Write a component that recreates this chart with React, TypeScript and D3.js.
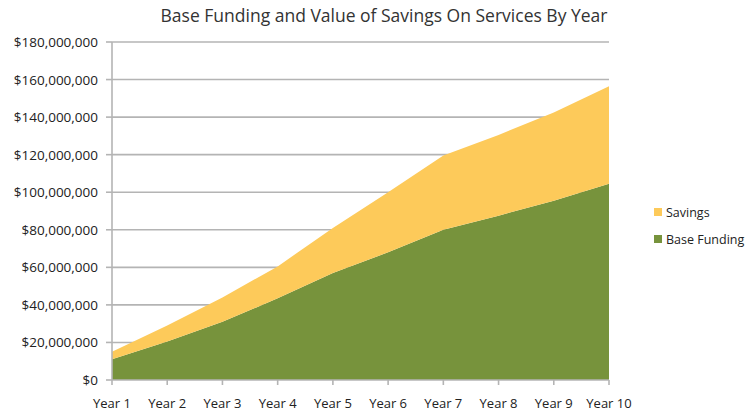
import React from "react";
import * as d3 from "d3";

const years = ["Year 1", "Year 2", "Year 3", "Year 4", "Year 5", "Year 6", "Year 7", "Year 8", "Year 9", "Year 10"];
const baseFunding = [11, 20.5, 31, 43.5, 57, 68, 80, 87.5, 95.5, 104.5].map((v) => v * 1e6);
const savings = [4, 8.5, 13, 17, 24, 32, 39.5, 43, 47, 52].map((v) => v * 1e6);
const yTicks = [0, 20, 40, 60, 80, 100, 120, 140, 160, 180].map((v) => v * 1e6);

const W = 748;
const H = 415;
const left = 112;
const right = 609;
const top = 42;
const bottom = 380;

const GREEN = "#77933c";
const YELLOW = "#fdca5a";
const FONT = "'Open Sans', 'Liberation Sans', sans-serif";

export default function App() {
  const x = d3.scalePoint<string>().domain(years).range([left, right]);
  const y = d3.scaleLinear().domain([0, 180e6]).range([bottom, top]);
  const fmt = (v: number) => "$" + d3.format(",")(v);

  const rows = years.map((yr, i) => ({ year: yr, base: baseFunding[i], savings: savings[i] }));
  const stack = d3.stack<any>().keys(["base", "savings"]);
  const series = stack(rows);
  const area = d3
    .area<any>()
    .x((d) => x(d.data.year) as number)
    .y0((d) => y(d[0]))
    .y1((d) => y(d[1]));
  const colors = [GREEN, YELLOW];

  return (
    <svg width={W} height={H} style={{ position: "absolute", left: 0, top: 0, background: "#fff" }}>
      <text x={384} y={22} textAnchor="middle" fontFamily={FONT} fontSize={17.5} fill="#333">
        Base Funding and Value of Savings On Services By Year
      </text>
      {yTicks.map((t) => (
        <g key={t}>
          {t > 0 && <line x1={left} x2={right} y1={y(t)} y2={y(t)} stroke="#b4b4b4" strokeWidth={1.6} />}
          <line x1={left - 6} x2={left} y1={y(t)} y2={y(t)} stroke="#b4b4b4" strokeWidth={1.6} />
          <text x={98} y={y(t) + 5} textAnchor="end" fontFamily={FONT} fontSize={13.5} fill="#222">
            {fmt(t)}
          </text>
        </g>
      ))}
      {series.map((s, i) => (
        <path key={s.key} d={area(s) as string} fill={colors[i]} />
      ))}
      <line x1={left} x2={left} y1={top} y2={bottom} stroke="#b4b4b4" strokeWidth={1.6} />
      <line x1={left} x2={right} y1={bottom} y2={bottom} stroke="#b4b4b4" strokeWidth={1.6} />
      {years.map((yr) => (
        <g key={yr}>
          <line x1={x(yr)} x2={x(yr)} y1={bottom} y2={bottom + 5} stroke="#b4b4b4" strokeWidth={1.6} />
          <text x={x(yr)} y={bottom + 28} textAnchor="middle" fontFamily={FONT} fontSize={13} fill="#222">
            {yr}
          </text>
        </g>
      ))}
      <rect x={654} y={208} width={8} height={8} fill={YELLOW} />
      <text x={666} y={217} fontFamily={FONT} fontSize={12.5} fill="#222">Savings</text>
      <rect x={654} y={235} width={8} height={8} fill={GREEN} />
      <text x={666} y={244} fontFamily={FONT} fontSize={12.5} fill="#222">Base Funding</text>
    </svg>
  );
}
